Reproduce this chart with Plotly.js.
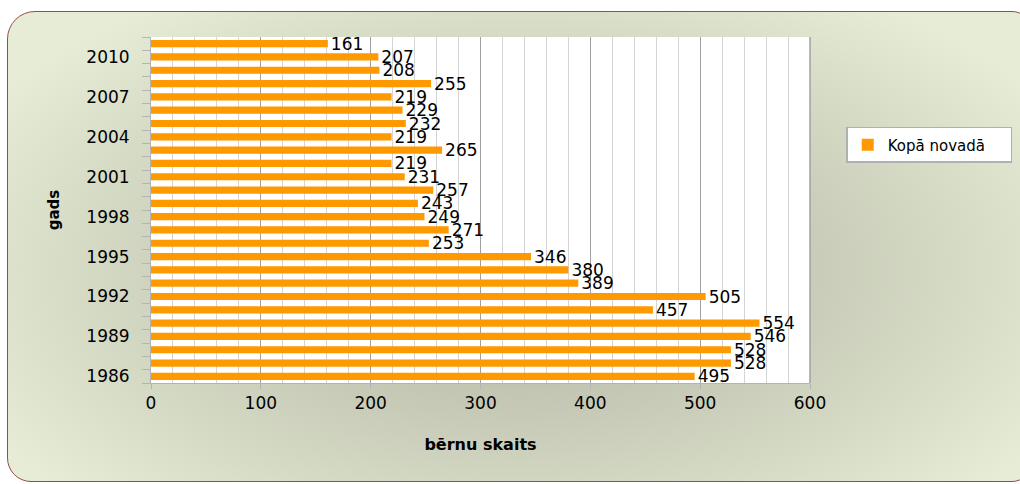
<!DOCTYPE html>
<html>
<head>
<meta charset="utf-8">
<script src="https://cdn.plot.ly/plotly-3.0.1.min.js"></script>
<style>
  html, body { margin: 0; padding: 0; background: #ffffff; }
  #wrap { position: relative; width: 1020px; height: 484px; overflow: hidden; }
  #frame {
    position: absolute; left: 7px; top: 11px; width: 1023px; height: 469px;
    border: 1px solid #9a4a4a; border-radius: 28px 20px 20px 24px;
    background: radial-gradient(ellipse 60% 70% at 50% 55%, #aeb2a0 0%, #c6cab6 45%, #e6ecd6 100%);
  }
  #chart { position: absolute; left: 0; top: 0; width: 1020px; height: 484px; }
</style>
</head>
<body>
<div id="wrap">
  <div id="frame"></div>
  <div id="chart"></div>
</div>
<script>
// Data
const years = [1986, 1987, 1988, 1989, 1990, 1991, 1992, 1993, 1994, 1995, 1996, 1997, 1998,
               1999, 2000, 2001, 2002, 2003, 2004, 2005, 2006, 2007, 2008, 2009, 2010, 2011];
const children = [495, 528, 528, 546, 554, 457, 505, 389, 380, 346, 253, 271, 249,
                  243, 257, 231, 219, 265, 219, 232, 229, 219, 255, 208, 207, 161];
const yearTicks = [1986, 1989, 1992, 1995, 1998, 2001, 2004, 2007, 2010];
const xTicks = [0, 100, 200, 300, 400, 500, 600];
const seriesName = 'Kopā novadā';

const font = 'DejaVu Sans, Liberation Sans, Arial, sans-serif';

const trace = {
  type: 'bar',
  orientation: 'h',
  x: children,
  y: years,
  name: seriesName,
  marker: { color: '#ff9900' },
  width: 0.54,
  text: children.map(String),
  textposition: 'outside',
  constraintext: 'none',
  cliponaxis: false,
  textfont: { family: font, size: 17, color: '#000000' },
  hoverinfo: 'x+y'
};

const layout = {
  width: 1020,
  height: 484,
  paper_bgcolor: 'rgba(0,0,0,0)',
  plot_bgcolor: '#ffffff',
  margin: { l: 151, r: 210, t: 37, b: 101, autoexpand: false },
  font: { family: font, color: '#000000' },
  showlegend: true,
  legend: {
    orientation: 'h',
    entrywidth: 118,
    x: 1.055, xanchor: 'left', y: 0.74, yanchor: 'top',
    bgcolor: '#ffffff', bordercolor: '#b0b0b0', borderwidth: 1.5,
    font: { family: font, size: 15, color: '#000000' },
    itemwidth: 30
  },
  xaxis: {
    range: [0, 600],
    tickvals: xTicks,
    ticktext: xTicks.map(String),
    tickfont: { family: font, size: 17, color: '#000000' },
    showgrid: true,
    gridcolor: '#a0a0a0',
    gridwidth: 1,
    minor: { dtick: 20, showgrid: true, gridcolor: '#d4d4d4', gridwidth: 1 },
    zeroline: false,
    showline: true,
    linecolor: '#b4b4b4',
    linewidth: 1,
    mirror: false,
    ticks: 'outside',
    ticklen: 5,
    tickcolor: '#b4b4b4',
    title: { text: 'bērnu skaits', font: { family: font, size: 16, color: '#000000', weight: 'bold' }, standoff: 26 },
    fixedrange: true
  },
  yaxis: {
    range: [1985.5, 2011.5],
    tickvals: yearTicks,
    ticktext: yearTicks.map(String),
    tickfont: { family: font, size: 17, color: '#000000' },
    showgrid: false,
    zeroline: false,
    showline: true,
    linecolor: '#b4b4b4',
    linewidth: 1,
    ticks: '',
    ticklabelstandoff: 17,
    minor: { tick0: 1985.5, dtick: 1, ticks: 'outside', ticklen: 8, tickcolor: '#b4b4b4', showgrid: false },
    title: { text: 'gads', font: { family: font, size: 15, color: '#000000', weight: 'bold' }, standoff: 23 },
    fixedrange: true
  },
  shapes: [
    { type: 'line', xref: 'paper', yref: 'paper', x0: 1, x1: 1, y0: 0, y1: 1,
      line: { color: '#a0a0a0', width: 1.5 } }
  ]
};

Plotly.newPlot('chart', [trace], layout, { displayModeBar: false, staticPlot: true });
</script>
</body>
</html>
